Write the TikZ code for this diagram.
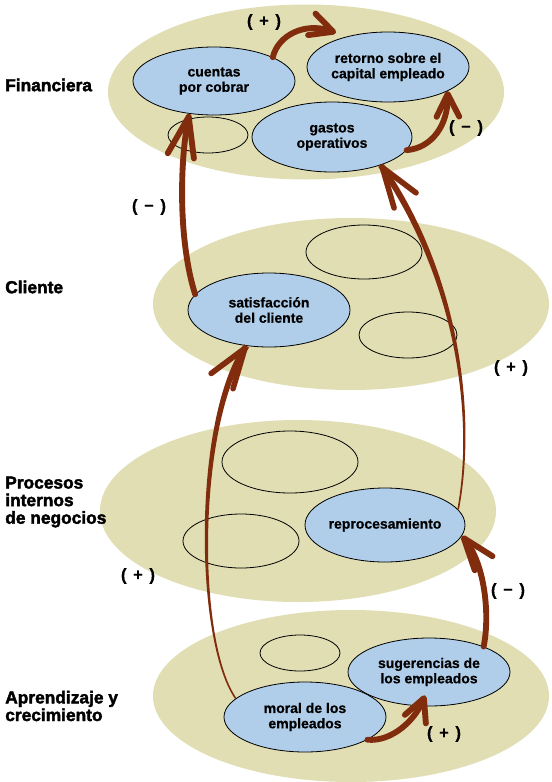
\documentclass[tikz,border=0pt]{standalone}
\usepackage{fontspec}
\setmainfont{Liberation Sans}[BoldFont={Liberation Sans Bold}]
\newfontfamily\heavyfont{Liberation Sans Bold}[RawFeature={embolden=0.6}]
\newfontfamily\blackfont{Liberation Sans Bold}[RawFeature={embolden=2.2}]
\usetikzlibrary{shapes.geometric,arrows.meta,calc}
\definecolor{khaki}{RGB}{224,222,178}
\definecolor{paleblue}{RGB}{176,206,234}
\definecolor{rust}{RGB}{130,44,14}
\begin{document}
\begin{tikzpicture}[x=0.75pt,y=-0.75pt,
  esize/.style 2 args={minimum width=#1*0.75pt,minimum height=#2*0.75pt},
  layer/.style={ellipse,fill=khaki,inner sep=0pt},
  item/.style={ellipse,draw=black,line width=0.6pt,fill=paleblue,inner sep=0pt,align=center,
    font=\heavyfont\fontsize{10.5}{11.5}\selectfont},
  blank/.style={ellipse,draw=black,line width=0.6pt,inner sep=0pt},
  persp/.style={font=\blackfont\fontsize{13}{13.2}\selectfont,align=left,anchor=west,inner sep=0pt},
  sign/.style={font=\heavyfont\fontsize{12.5}{13}\selectfont,inner sep=0pt},
  link/.style={draw=rust,line width=4.4pt,line cap=round,-{Straight Barb[length=17pt,width=17pt,round]}},
  midlink/.style={draw=rust,line width=4.4pt,line cap=round,-{Straight Barb[length=24pt,width=17pt,round]}},
  longlink/.style={draw=rust,line width=4.4pt,line cap=round,-{Straight Barb[length=30pt,width=20pt,round]}},
  headonly/.style={draw=rust,line width=4.2pt,line cap=round,-{Straight Barb[length=30pt,width=20pt,round]}},
  taper/.style={fill=rust},
]
\useasboundingbox (0,0) rectangle (551,782);
\fill[white] (0,0) rectangle (551,782);

% layers
\node[layer,esize={396}{175}] (fin) at (306,92) {};
\node[layer,esize={396}{172}] (cli) at (351,304) {};
\node[layer,esize={396}{182}] (pro) at (298,511) {};
\node[layer,esize={396}{172}] (apr) at (351,696) {};

% Financiera
\node[item,esize={162}{68}] (cxc) at (214,81) {cuentas\\por cobrar};
\node[item,esize={162}{70}] (roce) at (388,67) {retorno sobre el\\capital empleado};
\node[item,esize={160}{70}] (gop) at (332,137) {gastos\\operativos};
\node[blank,esize={80}{36}] (f1) at (208,135) {};
% Cliente
\node[item,esize={162}{74}] (sat) at (269,310) {satisfacción\\del cliente};
\node[blank,esize={116}{54}] (c1) at (364,252) {};
\node[blank,esize={98}{46}] (c2) at (408,335) {};
% Procesos
\node[item,esize={160}{74}] (rep) at (385,525) {reprocesamiento};
\node[blank,esize={136}{62}] (p1) at (290,462) {};
\node[blank,esize={116}{54}] (p2) at (241,541) {};
% Aprendizaje
\node[item,esize={162}{68}] (sug) at (429,672) {sugerencias de\\los empleados};
\node[item,esize={162}{70}] (mor) at (305,717) {moral de los\\empleados};
\node[blank,esize={80}{36}] (a1) at (300,653) {};

% perspective labels
\node[persp] (lfin) at (5,85) {Financiera};
\node[persp] (lcli) at (5,287) {Cliente};
\node[persp] (lpro) at (5,502) {Procesos\\internos\\de negocios};
\node[persp] (lapr) at (5,706) {Aprendizaje y\\crecimiento};

% signs
\node[sign] (s1) at (264,22) {(\hspace{1.5pt} + \hspace{1.5pt})};
\node[sign] (s2) at (466,128) {(\hspace{1.5pt} − \hspace{1.5pt})};
\node[sign] (s3) at (149,207) {(\hspace{1.5pt} − \hspace{1.5pt})};
\node[sign] (s4) at (511,368) {(\hspace{1.5pt} + \hspace{1.5pt})};
\node[sign] (s5) at (138,576) {(\hspace{1.5pt} + \hspace{1.5pt})};
\node[sign] (s6) at (508,591) {(\hspace{1.5pt} − \hspace{1.5pt})};
\node[sign] (s7) at (444,734) {(\hspace{1.5pt} + \hspace{1.5pt})};

% arrow end points
\coordinate (t1) at ($(roce.150)+(-3,-6)$);
\coordinate (t7) at ($(sug.south)+(-4,-11)$);

% arrows
\draw[link] (cxc.22) .. controls (278,35) and (305,22) .. (t1);
\draw[link] (gop.-10) .. controls (432,148) and (448,125) .. (roce.-22);
\draw[longlink] (sat.168) .. controls (178,240) and (180,160) .. (cxc.233);
\draw[midlink] (sug.25) .. controls (490,615) and (485,565) .. (rep.-8);
\draw[link] (mor.-20) .. controls (392,742) and (415,720) .. (t7);

% tapered: reprocesamiento -> gastos operativos
\fill[taper] ($(rep.12)+(-0.8,-0.15)$) .. controls ($(475,420)+(-1,0)$) and ($(460,280)+(-2.5,1.7)$) ..
  ($(gop.-30)+(-2.5,1.7)$) -- ($(gop.-30)+(2.5,-1.7)$) .. controls ($(460,280)+(2.5,-1.7)$) and ($(475,420)+(1,0)$) ..
  ($(rep.12)+(0.8,0.15)$) -- cycle;
\draw[headonly] ($(gop.-30)!0.08!(460,280)$) -- (gop.-30);

% tapered: moral -> satisfaccion
\fill[taper] ($(mor.165)+(0.65,-0.46)$) .. controls ($(195,640)+(1,0)$) and ($(195,420)+(2.5,1.7)$) ..
  ($(sat.238)+(2.5,1.7)$) -- ($(sat.238)+(-2.5,-1.7)$) .. controls ($(195,420)+(-2.5,-1.7)$) and ($(195,640)+(-1,0)$) ..
  ($(mor.165)+(-0.65,0.46)$) -- cycle;
\draw[headonly] ($(sat.238)!0.08!(195,420)$) -- (sat.238);
\end{tikzpicture}
\end{document}
